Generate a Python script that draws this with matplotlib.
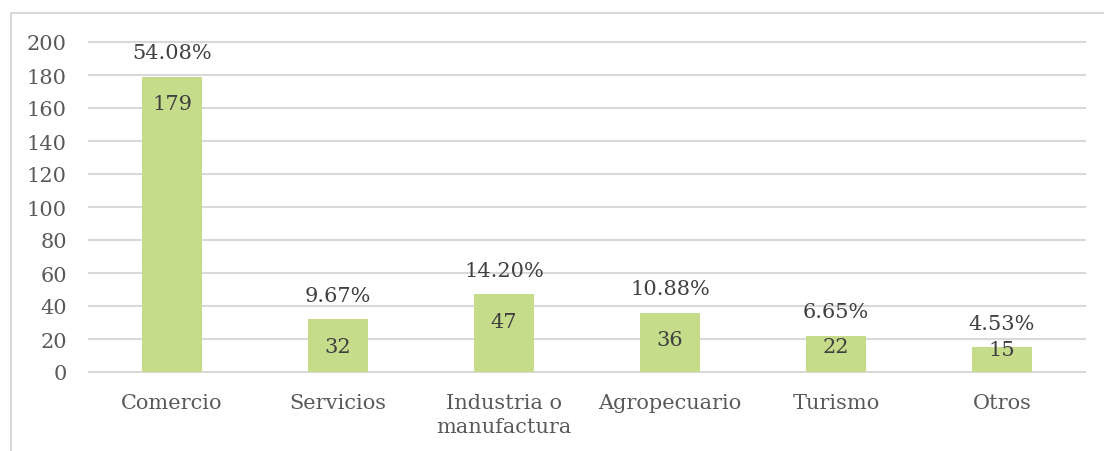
import matplotlib.pyplot as plt
from matplotlib.lines import Line2D

categories = ["Comercio", "Servicios", "Industria o\nmanufactura", "Agropecuario", "Turismo", "Otros"]
counts = [179, 32, 47, 36, 22, 15]
percents = ["54.08%", "9.67%", "14.20%", "10.88%", "6.65%", "4.53%"]

bar_color = "#C5DC8B"
grid_color = "#D9D9D9"
tick_color = "#595959"
label_color = "#404040"

plt.rcParams['font.family'] = ['DejaVu Serif']

fig = plt.figure(figsize=(11.04, 4.52), dpi=100)
ax = fig.add_axes([89 / 1104, 1 - 373 / 452, 996 / 1104, 330 / 452])

x = list(range(len(categories)))
bars = ax.bar(x, counts, width=0.365, color=bar_color, zorder=3)

ax.set_ylim(0, 200)
ax.set_xlim(-0.5, len(categories) - 0.5)
ax.set_yticks(range(0, 201, 20))
ax.yaxis.grid(True, color=grid_color, linewidth=1.5, zorder=0)
for gl in ax.yaxis.get_gridlines():
    gl.set_clip_on(False)
for s in ax.spines.values():
    s.set_visible(False)
ax.tick_params(axis='both', length=0, labelsize=15, colors=tick_color)
ax.tick_params(axis='y', pad=16)
ax.tick_params(axis='x', pad=15)
ax.set_xticks(x)
ax.set_xticklabels(categories, linespacing=1.35, va='top')

# value above (percent) and inside (count)
for b, c, p in zip(bars, counts, percents):
    cx = b.get_x() + b.get_width() / 2
    ax.annotate(p, (cx, c), xytext=(0, 24), textcoords='offset pixels',
                ha='center', va='center', fontsize=15, color=label_color)
    h_px = c * 330 / 200
    off = min(27, max(2, h_px - 25))
    ax.annotate(str(c), (cx, c), xytext=(0, -off), textcoords='offset pixels',
                ha='center', va='center', fontsize=15, color=label_color, zorder=4)

# outer chart border (left + top visible)
bx = 11 / 1104
by = 1 - 14 / 452
fig.add_artist(Line2D([bx, bx], [0, by], color=grid_color, linewidth=1.5, transform=fig.transFigure))
fig.add_artist(Line2D([bx, 1], [by, by], color=grid_color, linewidth=1.5, transform=fig.transFigure))

fig.savefig("out.png", dpi=100)
